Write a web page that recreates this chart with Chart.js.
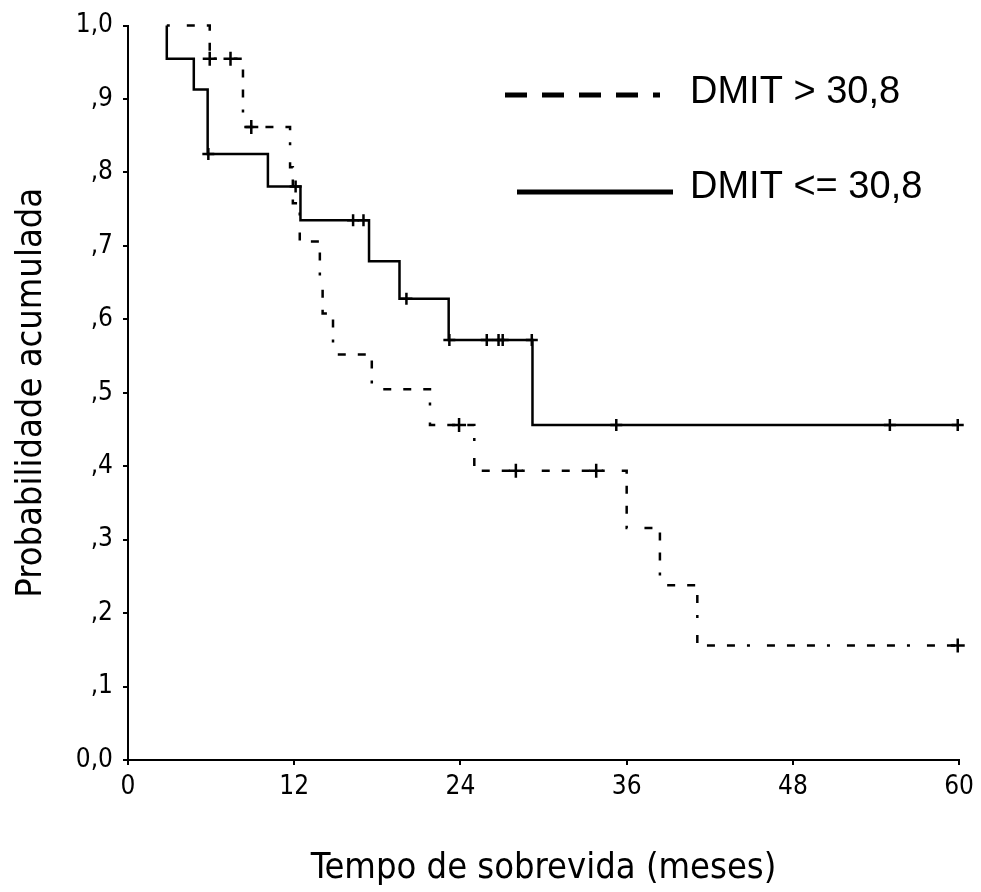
<!DOCTYPE html>
<html>
<head>
<meta charset="utf-8">
<title>Curva de sobrevida - DMIT</title>
<script src="https://cdn.jsdelivr.net/npm/chart.js@4/dist/chart.umd.min.js"></script>
<style>
  body { margin: 0; background: #fff; }
  canvas { display: block; }
</style>
</head>
<body>
<canvas id="kmChart" width="981" height="892"></canvas>
<script>
// Kaplan-Meier steps (time in months, cumulative probability)
const seriesNames = ['DMIT > 30,8', 'DMIT <= 30,8'];

// DMIT > 30,8 (dashed)
const highTimes = [2.8, 5.9, 8.3, 11.7, 11.9, 12.4, 13.85, 14.05, 14.8, 17.6, 21.8, 25.0, 36.0, 38.4, 41.1, 60];
const highSurv  = [1.0, 0.955, 0.862, 0.807, 0.758, 0.706, 0.654, 0.608, 0.552, 0.505, 0.456, 0.394, 0.316, 0.238, 0.156, 0.156];
const highCensorTimes = [5.9, 7.4, 8.9, 23.9, 28.0, 33.8, 59.9];
const highCensorSurv  = [0.955, 0.955, 0.862, 0.456, 0.394, 0.394, 0.156];

// DMIT <= 30,8 (solid)
const lowTimes = [2.8, 2.8, 4.75, 5.75, 10.1, 12.45, 17.4, 19.6, 23.15, 29.2, 60];
const lowSurv  = [1.0, 0.955, 0.913, 0.825, 0.781, 0.735, 0.679, 0.628, 0.572, 0.456, 0.456];
const lowCensorTimes = [5.8, 12.1, 16.25, 17.0, 20.1, 23.2, 25.9, 26.75, 27.05, 29.15, 35.25, 55.0, 59.9];
const lowCensorSurv  = [0.825, 0.781, 0.735, 0.735, 0.628, 0.572, 0.572, 0.572, 0.572, 0.572, 0.456, 0.456, 0.456];

// axis ticks
const xTicks = [0, 12, 24, 36, 48, 60];
const yTickLabels = ['0,0', ',1', ',2', ',3', ',4', ',5', ',6', ',7', ',8', ',9', '1,0'];

const narrowFont = "'Liberation Sans Narrow', 'DejaVu Sans Condensed', 'Liberation Sans', Arial, sans-serif";

function toPoints(xs, ys) {
  return xs.map((x, i) => ({ x: x, y: ys[i] }));
}

// legend drawn by hand, SPSS style
const legendPlugin = {
  id: 'kmLegend',
  afterDraw(chart) {
    const ctx = chart.ctx;
    ctx.save();
    ctx.strokeStyle = '#000';
    ctx.lineWidth = 5;
    ctx.setLineDash([22, 15]);
    ctx.beginPath();
    ctx.moveTo(505, 95);
    ctx.lineTo(660, 95);
    ctx.stroke();
    ctx.setLineDash([]);
    ctx.beginPath();
    ctx.moveTo(517, 192);
    ctx.lineTo(673, 192);
    ctx.stroke();
    ctx.fillStyle = '#000';
    ctx.font = "38px 'Liberation Sans', Arial, sans-serif";
    ctx.textBaseline = 'alphabetic';
    ctx.fillText(seriesNames[0], 690, 103);
    ctx.fillText(seriesNames[1], 690, 198);
    ctx.restore();
  }
};

const ctx = document.getElementById('kmChart').getContext('2d');
new Chart(ctx, {
  type: 'scatter',
  data: {
    datasets: [
      {
        label: seriesNames[0],
        data: toPoints(highTimes, highSurv),
        showLine: true,
        stepped: true,
        borderColor: '#000',
        borderWidth: 2.5,
        borderDash: [3, 17, 8, 12, 8, 12, 8, 12],
        pointRadius: 0,
        clip: false
      },
      {
        label: seriesNames[1],
        data: toPoints(lowTimes, lowSurv),
        showLine: true,
        stepped: true,
        borderColor: '#000',
        borderWidth: 2.5,
        pointRadius: 0,
        clip: false
      },
      {
        label: 'censurados >',
        data: toPoints(highCensorTimes, highCensorSurv),
        showLine: false,
        pointStyle: 'cross',
        pointRadius: 7,
        borderColor: '#000',
        borderWidth: 2.5,
        clip: false
      },
      {
        label: 'censurados <=',
        data: toPoints(lowCensorTimes, lowCensorSurv),
        showLine: false,
        pointStyle: 'cross',
        pointRadius: 6,
        borderColor: '#000',
        borderWidth: 2.5,
        clip: false
      }
    ]
  },
  options: {
    responsive: false,
    animation: false,
    layout: { padding: { top: 21, right: 21, bottom: 0, left: 0 } },
    plugins: {
      legend: { display: false },
      tooltip: { enabled: false }
    },
    scales: {
      x: {
        type: 'linear',
        min: 0,
        max: 60,
        afterFit: (s) => { s.height = 132; },
        afterBuildTicks: (s) => { s.ticks = xTicks.map(v => ({ value: v })); },
        ticks: {
          color: '#000',
          padding: 7,
          font: { family: narrowFont, size: 26 },
          maxRotation: 0
        },
        grid: { drawOnChartArea: false, drawTicks: true, tickLength: 5, color: '#000', lineWidth: 2 },
        border: { display: true, color: '#000', width: 2 },
        title: {
          display: true,
          text: 'Tempo de sobrevida (meses)',
          color: '#000',
          font: { family: narrowFont, size: 36 },
          padding: { top: 0, bottom: 2 }
        }
      },
      y: {
        type: 'linear',
        min: 0,
        max: 1,
        afterFit: (s) => { s.width = 128; },
        ticks: {
          stepSize: 0.1,
          color: '#000',
          padding: 10,
          font: { family: narrowFont, size: 26 },
          callback: (v) => yTickLabels[Math.round(v * 10)]
        },
        grid: { drawOnChartArea: false, drawTicks: true, tickLength: 5, color: '#000', lineWidth: 2 },
        border: { display: true, color: '#000', width: 2 },
        title: {
          display: true,
          text: 'Probabilidade acumulada',
          color: '#000',
          font: { family: narrowFont, size: 36 },
          padding: { top: 10, bottom: 0 }
        }
      }
    }
  },
  plugins: [legendPlugin]
});
</script>
</body>
</html>
